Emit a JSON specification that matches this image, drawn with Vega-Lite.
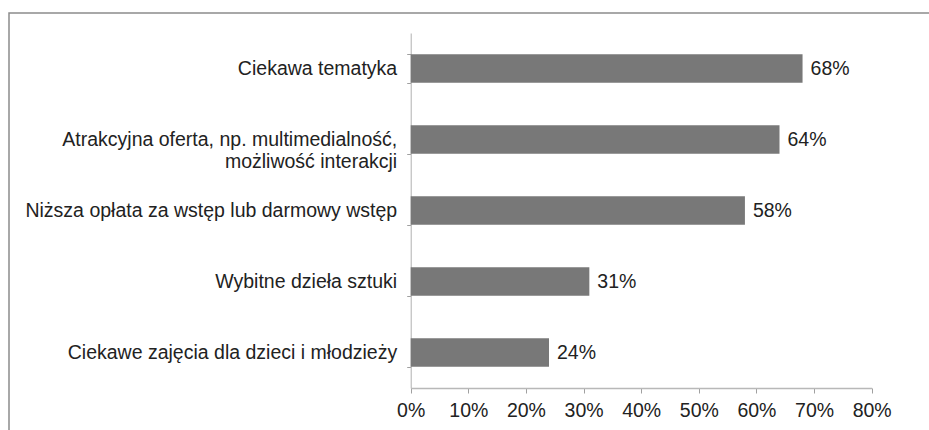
{
  "$schema": "https://vega.github.io/schema/vega-lite/v6.json",
  "autosize": {"type": "none"},
  "padding": {"left": 9, "top": 13, "right": 0, "bottom": 0},
  "width": 930,
  "height": 430,
  "background": "white",
  "data": {
    "values": [
      {"kategoria": "Ciekawa tematyka", "procent": 68},
      {"kategoria": "Atrakcyjna oferta, np. multimedialność,|możliwość interakcji", "procent": 64},
      {"kategoria": "Niższa opłata za wstęp lub darmowy wstęp", "procent": 58},
      {"kategoria": "Wybitne dzieła sztuki", "procent": 31},
      {"kategoria": "Ciekawe zajęcia dla dzieci i młodzieży", "procent": 24}
    ]
  },
  "encoding": {
    "y": {
      "field": "kategoria",
      "type": "nominal",
      "sort": null,
      "scale": {"range": [20, 375], "paddingInner": 0.6, "paddingOuter": 0.3},
      "axis": {
        "title": null,
        "offset": -401.7,
        "tickBand": "extent",
        "labelExpr": "split(datum.label, '|')",
        "labelLineHeight": 22,
        "labelFontSize": 19.5,
        "labelFont": "Liberation Sans",
        "labelColor": "#222222",
        "labelPadding": 10,
        "labelLimit": 500,
        "tickSize": 4,
        "tickColor": "#a0a0a0",
        "domainColor": "#b0b0b0",
        "grid": false
      }
    },
    "x": {
      "field": "procent",
      "type": "quantitative",
      "scale": {"domain": [0, 80], "range": [401.7, 862.7], "nice": false},
      "axis": {
        "title": null,
        "offset": -55,
        "values": [0, 10, 20, 30, 40, 50, 60, 70, 80],
        "labelExpr": "datum.value + '%'",
        "labelFontSize": 19.5,
        "labelFont": "Liberation Sans",
        "labelColor": "#222222",
        "labelPadding": 8,
        "labelFlush": false,
        "labelOverlap": false,
        "labelBound": false,
        "tickSize": 5,
        "tickColor": "#a0a0a0",
        "domainColor": "#b8b8b8",
        "domainWidth": 1.5,
        "grid": false
      }
    }
  },
  "layer": [
    {"mark": {"type": "bar", "color": "#787878"}},
    {
      "mark": {"type": "text", "align": "left", "baseline": "middle", "dx": 8, "font": "Liberation Sans", "fontSize": 19.5, "color": "#222222", "text": {"expr": "datum.procent + '%'"}}
    }
  ],
  "config": {
    "view": {"stroke": "#8c8c8c", "strokeWidth": 1.5}
  }
}
